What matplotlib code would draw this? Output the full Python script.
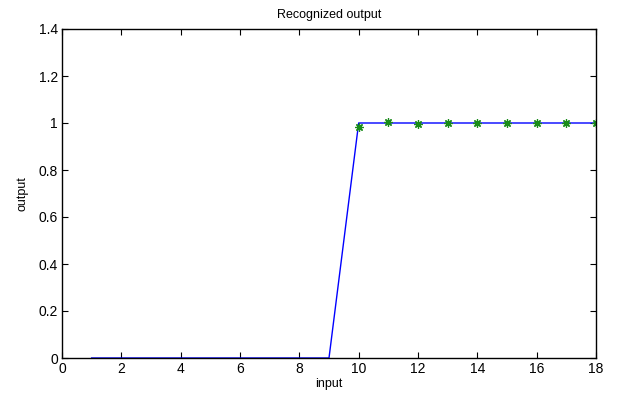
import matplotlib
matplotlib.use('Agg')
import matplotlib.pyplot as plt

plt.rcParams['font.family'] = ['Liberation Sans', 'DejaVu Sans']

# data
x_in = [1, 2, 3, 4, 5, 6, 7, 8, 9, 10, 11, 12, 13, 14, 15, 16, 17, 18]
y_target = [0, 0, 0, 0, 0, 0, 0, 0, 0, 1, 1, 1, 1, 1, 1, 1, 1, 1]
x_rec = [10, 11, 12, 13, 14, 15, 16, 17, 18]
y_rec = [0.985, 1.005, 0.997, 1.0, 1.0, 1.0, 1.0, 1.0, 1.0]

fig = plt.figure(figsize=(6.18, 3.94), dpi=100)
ax = fig.add_axes([62 / 618, 36 / 394, 534 / 618, 329 / 394])

ax.plot(x_in, y_target, color='blue', lw=1.0)
ax.plot(x_rec, y_rec, ls='none', marker=(8, 2, 0), color='#1a8c1a', ms=6, mew=0.9)

ax.set_xlim(0, 18)
ax.set_ylim(0, 1.4)
ax.set_xticks(range(0, 19, 2))
ax.set_yticks([0, 0.2, 0.4, 0.6, 0.8, 1, 1.2, 1.4])
ax.set_yticklabels(['0', '0.2', '0.4', '0.6', '0.8', '1', '1.2', '1.4'])
ax.tick_params(direction='in', top=True, right=True, length=4, width=0.8,
               labelsize=10, pad=3)
for s in ax.spines.values():
    s.set_linewidth(1.0)

ax.set_xlabel('input', fontsize=9, labelpad=1)
ax.set_ylabel('output', fontsize=9, labelpad=7)
ax.set_title('Recognized output', fontsize=9, pad=8)

fig.savefig('out.png', dpi=100)
